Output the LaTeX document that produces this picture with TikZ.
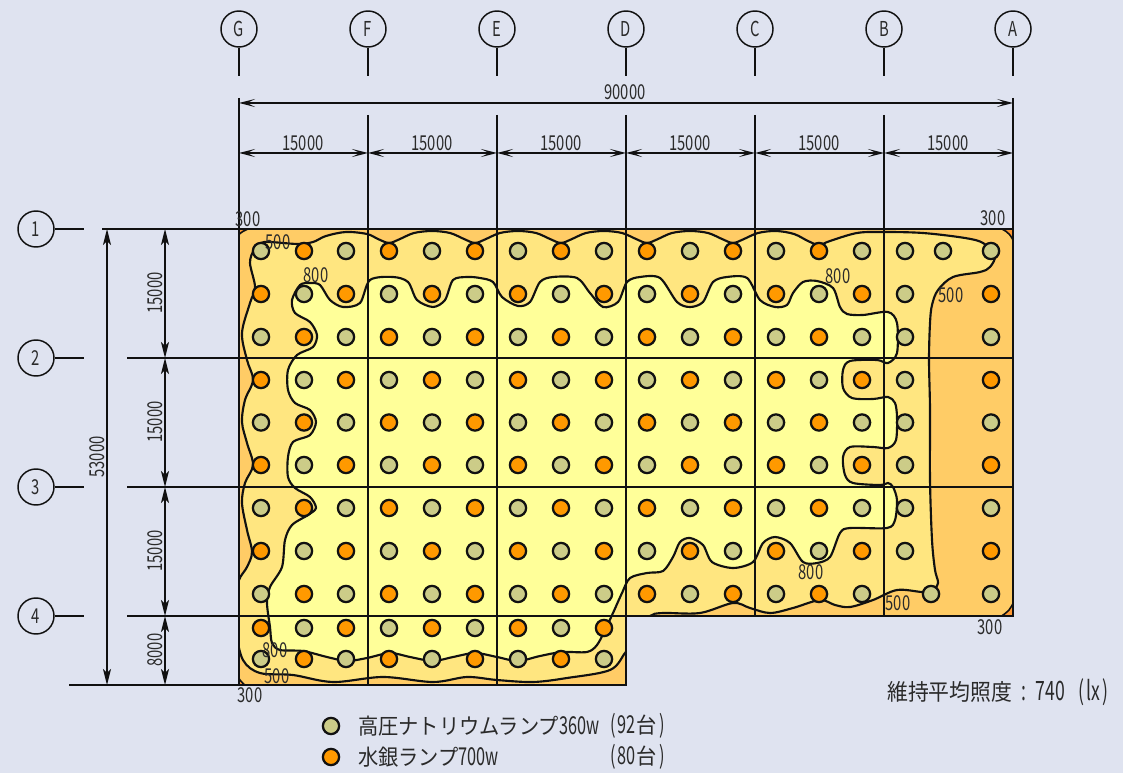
\documentclass[tikz,border=0pt]{standalone}
\usepackage{fontspec}
\usetikzlibrary{arrows.meta}
\setmainfont{Noto Sans CJK JP}
\newfontfamily\numf{Noto Sans CJK JP}[FakeStretch=0.72]
\newfontfamily\numg{Noto Sans CJK JP}[FakeStretch=0.66]
\newfontfamily\jpf{Noto Sans CJK JP}[FakeStretch=0.92]
\definecolor{bgc}{HTML}{DFE3F0}
\definecolor{zoneA}{HTML}{FFCC66}
\definecolor{zoneB}{HTML}{FFE680}
\definecolor{zoneC}{HTML}{FFFF99}
\definecolor{zoneD}{HTML}{FF9933}
\definecolor{lampN}{HTML}{CCCC88}
\definecolor{lampM}{HTML}{FF9900}
\definecolor{ink}{HTML}{111111}
\definecolor{txt}{HTML}{2A2A2A}
\tikzset{
  x=0.75pt,y=-0.75pt,
  bubble/.style={circle,draw=ink,line width=1.1pt,minimum size=27pt,inner sep=0pt,text=txt,font=\numf\fontsize{15.4}{16}\selectfont},
  lampn/.style={circle,draw=ink,line width=1.7pt,fill=lampN,minimum size=12.2pt,inner sep=0pt},
  lampm/.style={circle,draw=ink,line width=1.7pt,fill=lampM,minimum size=12.2pt,inner sep=0pt},
  dimtext/.style={text=txt,inner sep=0pt,font=\numf\fontsize{15.4}{16}\selectfont},
  dimline/.style={draw=ink,line width=1.1pt,{Stealth[length=12pt,width=6pt,inset=6pt]}-{Stealth[length=12pt,width=6pt,inset=6pt]}},
  vdimline/.style={draw=ink,line width=1.1pt,{Stealth[length=12pt,width=6pt,inset=3pt]}-{Stealth[length=12pt,width=6pt,inset=3pt]}},
  gridline/.style={draw=ink,line width=1pt},
  stubline/.style={draw=ink,line width=1.1pt},
  contour/.style={draw=ink,line width=1.6pt},
  wall/.style={draw=ink,line width=1.9pt},
  legtext/.style={text=txt,inner sep=0pt,anchor=west},
}
\newcommand{\jpbig}{\jpf\fontsize{16.5}{18}\selectfont}
\newcommand{\numbig}{\numg\fontsize{18.5}{18}\selectfont}
\begin{document}
\begin{tikzpicture}
\useasboundingbox (0,0) rectangle (1123,773);
\fill[bgc] (0,0) rectangle (1123,773);
% building
\fill[zoneA] (239,229) -- (1013,229) -- (1013,616) -- (626,616) -- (626,685) -- (239,685) -- cycle;
\begin{scope}
\clip (239,229) -- (1013,229) -- (1013,616) -- (626,616) -- (626,685) -- (239,685) -- cycle;
% corner zones
\fill[zoneD,draw=ink,line width=1.2pt] (236,240) .. controls (238,234) and (241,232) .. (248,229) -- (236,226) -- cycle;
\fill[zoneD,draw=ink,line width=1.2pt] (1002,229) .. controls (1008,232) and (1012,236) .. (1014,243) -- (1016,226) -- cycle;
\fill[zoneD,draw=ink,line width=1.2pt] (1014,600) .. controls (1012,608) and (1008,612) .. (1000,617) -- (1016,619) -- cycle;
\fill[zoneD,draw=ink,line width=1.2pt] (237,676) .. controls (240,680) and (242,683) .. (246,686) -- (236,688) -- cycle;
% 500 lx
\draw[contour,fill=zoneB] plot[smooth cycle,tension=0.55] coordinates {
(261,243)(270,242)(298,244)(313,242)(326,236)(346,232)(367,234)(378,239)(389,243)(400,239)(414,233)(432,231)
(450,233)(464,239)(475,243)(486,239)(500,233)(518,231)(536,233)(550,239)(561,243)(572,239)(586,233)(604,231)
(622,233)(636,239)(647,243)(658,239)(672,233)(690,231)(708,233)(722,239)(733,243)(744,239)(758,233)(776,231)
(794,234)(808,241)(819,245)(830,241)(857,233)(883,232)(923,233)(965,238)(983,243)
(995,255)(990,267)(980,272)(953,277)(938,290)(932,305)(930,323)(929,360)(930,410)(930,480)(932,540)
(935,570)(938,583)(932,591)(922,592)(897,590)(873,600)(850,607)(835,605)(820,600)(793,608)(770,613)
(750,608)(733,603)(700,613)(663,613)(650,616)(640,630)(632,645)(625,653)(610,670)(567,678)(533,682)(497,680)
(467,677)(433,682)(383,677)(333,682)(293,675)(260,673)(243,660)(236,630)(236,600)(239,580)(247,567)
(252,552)(247,530)(242,503)(245,483)(253,465)(247,443)(242,422)(245,400)(253,380)(247,360)
(242,333)(250,303)(255,287)(250,263)(254,250)};
% 800 lx
\draw[contour,fill=zoneC] plot[smooth cycle,tension=0.5] coordinates {
(310,283)(320,285)(330,300)(343,307)(360,303)(370,280)(393,277)(408,282)(417,300)(433,307)(445,300)
(453,280)(467,277)(480,278)(493,282)(502,297)(518,306)(530,302)(540,282)(553,277)(577,278)(590,293)(603,307)
(618,302)(627,282)(640,277)(660,278)(677,302)(690,307)(703,302)(713,282)(727,277)(747,278)(760,300)
(775,307)(787,305)(793,293)(803,282)(817,281)(833,288)(840,307)(847,314)(863,315)(888,312)(897,323)
(897,353)(888,363)(877,360)(850,361)(843,370)(843,388)(852,398)(873,399)(888,397)(895,403)(897,417)
(896,440)(888,448)(873,447)(850,447)(843,457)(845,475)(853,483)(880,485)(888,483)(893,487)(897,500)
(895,520)(887,528)(850,528)(840,533)(830,557)(817,563)(803,562)(790,543)(775,537)(763,543)(753,562)
(733,568)(712,562)(703,545)(690,538)(680,542)(673,557)(663,571)(647,573)(630,578)(622,593)(613,613)
(605,630)(597,645)(587,652)(562,652)(540,656)(518,661)(497,657)(475,653)(453,657)(433,661)(410,657)
(390,653)(367,658)(347,661)(327,657)(303,651)(280,650)(272,643)(270,627)(267,603)(270,587)(282,567)
(285,540)(292,525)(308,515)(316,508)(310,497)(295,488)(288,477)(288,457)(293,442)(310,435)(316,422)
(310,410)(295,403)(288,390)(288,370)(297,355)(313,347)(317,335)(310,322)(295,313)(292,300)(300,285)};
\end{scope}
% grid coordinates
\foreach \n/\x in {G/239,F/368,E/497,D/626,C/755,B/884,A/1013}{
  \coordinate (top\n) at (\x,98);
  \coordinate (dim\n) at (\x,153);
}
\coordinate (fTop) at (368,115);\coordinate (eTop) at (497,115);\coordinate (dTop) at (626,115);
\coordinate (cTop) at (755,115);\coordinate (bTop) at (884,115);
\coordinate (gBot) at (239,685);\coordinate (fBot) at (368,685);\coordinate (eBot) at (497,685);\coordinate (dBot) at (626,685);
\coordinate (cBot) at (755,616);\coordinate (bBot) at (884,616);\coordinate (aBot) at (1013,616);
\coordinate (r1L) at (102,229);\coordinate (r1R) at (1013,229);
\coordinate (r2L) at (127,358);\coordinate (r2R) at (1013,358);
\coordinate (r3L) at (127,487);\coordinate (r3R) at (1013,487);
\coordinate (r4L) at (127,616);\coordinate (r4R) at (1013,616);
\coordinate (r5L) at (69,685);\coordinate (r5R) at (626,685);
% grid lines
\draw[gridline] (topG) -- (gBot);
\draw[gridline] (fTop) -- (fBot);
\draw[gridline] (eTop) -- (eBot);
\draw[gridline] (dTop) -- (dBot);
\draw[gridline] (cTop) -- (cBot);
\draw[gridline] (bTop) -- (bBot);
\draw[gridline] (topA) -- (aBot);
\draw[gridline] (r1L) -- (r1R);
\draw[gridline] (r2L) -- (r2R);
\draw[gridline] (r3L) -- (r3R);
\draw[gridline] (r4L) -- (r4R);
\draw[gridline] (r5L) -- (r5R);
% walls
\draw[wall,line join=miter] (239,229) -- (1013,229) -- (1013,616) -- (626,616) -- (626,685) -- (239,685) -- cycle;
% column bubbles
\foreach \n/\x in {G/239,F/368,E/497,D/626,C/755,B/884,A/1013}{
  \node[bubble] (bub\n) at (\x,29) {\n};
  \coordinate (stub\n) at (\x,76);
  \draw[stubline] (bub\n) -- (stub\n);
}
% row bubbles
\foreach \n/\y in {1/229,2/358,3/487,4/616}{
  \node[bubble] (row\n) at (36,\y) {\n};
  \coordinate (rstub\n) at (84,\y);
  \draw[stubline] (row\n) -- (rstub\n);
}
% lamps
\foreach \x [count=\c from 0] in {261,304,346,389,432,475,518,561,604,647,690,733,776,819,862}{
  \foreach \y [count=\r from 0] in {251,294,337,380,422.5,465,508,551,594,628,659}{
    \pgfmathtruncatemacro{\vis}{(\c<9 || \r<9) ? 1 : 0}
    \pgfmathtruncatemacro{\prty}{mod(\c+\r,2)}
    \ifnum\vis=1
      \ifnum\prty=0 \node[lampn] (L\c-\r) at (\x,\y) {};
      \else \node[lampm] (L\c-\r) at (\x,\y) {};\fi
    \fi
  }
}
\foreach \y [count=\r from 0] in {251,294,337,380,422.5,465,508,551}{
  \node[lampn] (P\r) at (905,\y) {};
}
\foreach \y [count=\r from 0] in {251,294,337,380,422.5,465,508,551,594}{
  \pgfmathtruncatemacro{\prty}{mod(\r,2)}
  \ifnum\prty=0 \node[lampn] (Q\r) at (991,\y) {};
  \else \node[lampm] (Q\r) at (991,\y) {};\fi
}
\node[lampn] (X1) at (943,251) {};
\node[lampn] (X2) at (931,594) {};
% dimensions
\coordinate (t90L) at (239,103);\coordinate (t90R) at (1013,103);
\draw[dimline] (t90L) -- (t90R);
\node[dimtext] (d90) at (625,92) {90000};
\draw[dimline] (dimG) -- (dimF);
\draw[dimline] (dimF) -- (dimE);
\draw[dimline] (dimE) -- (dimD);
\draw[dimline] (dimD) -- (dimC);
\draw[dimline] (dimC) -- (dimB);
\draw[dimline] (dimB) -- (dimA);
\foreach \x/\k in {303/a,432/b,561/c,690/d,819/e,948/f}{
  \node[dimtext] (h\k) at (\x,143) {15000};
}
\coordinate (v1) at (165,229);\coordinate (v2) at (165,358);\coordinate (v3) at (165,487);\coordinate (v4) at (165,616);\coordinate (v5) at (165,685);
\coordinate (w1) at (107,229);\coordinate (w5) at (107,685);
\draw[vdimline] (w1) -- (w5);
\draw[vdimline] (v1) -- (v2);
\draw[vdimline] (v2) -- (v3);
\draw[vdimline] (v3) -- (v4);
\draw[vdimline] (v4) -- (v5);
\node[dimtext,rotate=90] (d53) at (97,457) {53000};
\node[dimtext,rotate=90] (va) at (155,293) {15000};
\node[dimtext,rotate=90] (vb) at (155,422) {15000};
\node[dimtext,rotate=90] (vc) at (155,551) {15000};
\node[dimtext,rotate=90] (vd) at (155,650) {8000};
% contour labels
\node[dimtext] (c1) at (248,219) {300};
\node[dimtext] (c2) at (993,218) {300};
\node[dimtext] (c3) at (990,627) {300};
\node[dimtext] (c4) at (250,695) {300};
\node[dimtext] (c5) at (278,242) {500};
\node[dimtext] (c6) at (316,275) {800};
\node[dimtext] (c7) at (838,276) {800};
\node[dimtext] (c8) at (951,295) {500};
\node[dimtext] (c9) at (811,572) {800};
\node[dimtext] (c10) at (898,603) {500};
\node[dimtext] (c11) at (275,650) {800};
\node[dimtext] (c12) at (277,676) {500};
% legend
\node[lampn] (leg1) at (331,726) {};
\node[lampm] (leg2) at (331,757) {};
\node[legtext] (lt1) at (358,726) {\jpbig 高圧ナトリウムランプ{\numbig 360w}};
\node[legtext] (lt2) at (358,757) {\jpbig 水銀ランプ{\numbig 700w}};
\node[legtext] (lt3) at (610,726) {\numbig (\hspace{1pt}92\hspace{1pt}{\jpbig 台}\hspace{2pt})};
\node[legtext] (lt4) at (610,757) {\numbig (\hspace{1pt}80\hspace{1pt}{\jpbig 台}\hspace{2pt})};
\node[legtext] (lt5) at (887,692) {\jpf\fontsize{17}{18}\selectfont 維持平均照度{\numg\fontsize{20}{18}\selectfont\hspace{7pt}:\hspace{7pt}740\hspace{10pt}(\hspace{1.5pt}lx\hspace{1.5pt})}};
\end{tikzpicture}
\end{document}
